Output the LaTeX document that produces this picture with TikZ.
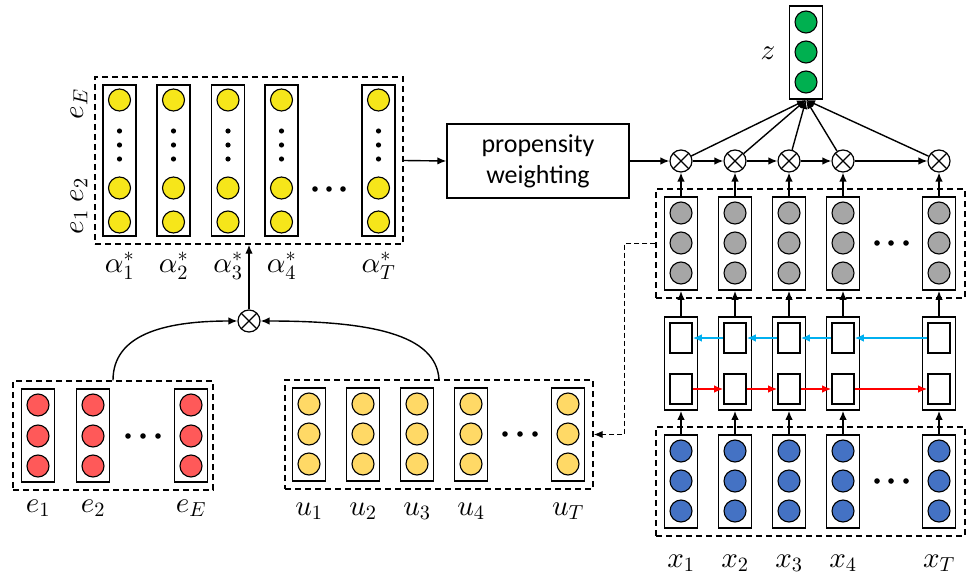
\documentclass[tikz,border=0pt]{standalone}
\usepackage{fontspec}
\DeclareFontFamily{OML}{cmm}{\skewchar\font'177}
\DeclareFontShape{OML}{cmm}{m}{it}{<->cmmi10}{}
\DeclareFontFamily{OMS}{cmsy}{\skewchar\font'60}
\DeclareFontShape{OMS}{cmsy}{m}{n}{<->cmsy10}{}
\DeclareFontFamily{OT1}{cmr}{\hyphenchar\font45}
\DeclareFontShape{OT1}{cmr}{m}{n}{<->cmr10}{}
\newfontfamily\propfont{Carlito}
\usetikzlibrary{arrows.meta}
\definecolor{ayel}{RGB}{246,230,26}
\definecolor{ugold}{RGB}{255,217,102}
\definecolor{ngray}{RGB}{166,166,166}
\definecolor{nblue}{RGB}{68,114,196}
\definecolor{nred}{RGB}{255,89,89}
\definecolor{ngreen}{RGB}{0,176,80}
\definecolor{lblue}{RGB}{0,176,240}
\definecolor{lred}{RGB}{255,0,0}
\begin{document}
\begin{tikzpicture}[x=1pt,y=-1pt,
  col/.style={draw=black, line width=1.8pt, minimum width=33pt, minimum height=93pt, inner sep=0pt},
  inbox/.style={draw=black, line width=1.6pt, minimum width=22pt, minimum height=30pt, inner sep=0pt},
  neu/.style={circle, draw=black, line width=1.1pt, minimum size=22pt, inner sep=0pt},
  grp/.style={draw=black, line width=1.4pt, dash pattern=on 6pt off 4pt, inner sep=0pt},
  ot/.style={circle, draw=black, line width=1.2pt, minimum size=22pt, inner sep=0pt, fill=white,
    path picture={\draw[line width=1.2pt] (path picture bounding box.north west) -- (path picture bounding box.south east)
      (path picture bounding box.north east) -- (path picture bounding box.south west);}},
  arr/.style={-{Latex[length=9pt,width=7.5pt]}, line width=1.4pt},
  lab/.style={font=\fontsize{29}{34}\selectfont, inner sep=0pt, anchor=base},
  dotf/.style={fill=black}
]
\useasboundingbox[fill=white] (0,0) rectangle (968,575);

% ---------------- alpha block ----------------
\node[grp, minimum width=308pt, minimum height=167pt] (agrp) at (249,160.5) {};
\foreach \i/\x in {1/119.5,2/173.5,3/228,4/281.5,T/378.5} {
  \node[col, minimum height=151pt] (a\i) at (\x,160.5) {};
  \node[neu, fill=ayel] (a\i-E) at (\x,100) {};
  \node[neu, fill=ayel] (a\i-2) at (\x,188) {};
  \node[neu, fill=ayel] (a\i-1) at (\x,222) {};
  \fill[dotf] (\x,131) circle[radius=2.6pt] (\x,145) circle[radius=2.6pt] (\x,159) circle[radius=2.6pt];
  \node[lab] (al\i) at (\x,272) {$\alpha_{\i}^{*}$};
}
\fill[dotf] (315,189) circle[radius=2.8pt] (329,189) circle[radius=2.8pt] (343,189) circle[radius=2.8pt];
\node[lab, rotate=90] (leE) at (83,104) {$e_E$};
\node[lab, rotate=90] (le2) at (83,190) {$e_2$};
\node[lab, rotate=90] (le1) at (83,222) {$e_1$};

% ---------------- propensity weighting ----------------
\node[draw=black, line width=1.4pt, minimum width=182pt, minimum height=74pt, align=center, inner sep=0pt,
  font=\propfont\fontsize{26}{31}\selectfont] (prop) at (538,161) {propensity\\weighting};
\draw[arr] (agrp.east) -- (prop.west);

% ---------------- z ----------------
\node[col] (z) at (806,52.5) {};
\foreach \y [count=\j] in {22,52,82} \node[neu, fill=ngreen] (z-\j) at (806,\y) {};
\node[lab] (zl) at (768,60) {$z$};

% ---------------- right side ----------------
\node[grp, minimum width=309pt, minimum height=109pt] (ggrp) at (810.5,243.5) {};
\node[grp, minimum width=309pt, minimum height=109pt] (bgrp) at (810.5,481.5) {};
\foreach \k/\x/\s in {1/681/1,2/735/2,3/789/3,4/843/4,5/939/T} {
  \node[ot] (o\k) at (\x,161) {};
  \node[col] (g\k) at (\x,243.5) {};
  \foreach \y [count=\j] in {213,243,273} \node[neu, fill=ngray] (g\k-\j) at (\x,\y) {};
  \node[col] (r\k) at (\x,363.5) {};
  \node[inbox] (ru\k) at (\x,338) {};
  \node[inbox] (rl\k) at (\x,389) {};
  \node[col] (b\k) at (\x,481.5) {};
  \foreach \y [count=\j] in {451,481,511} \node[neu, fill=nblue] (b\k-\j) at (\x,\y) {};
  \node[lab] (xl\k) at (\x,567) {$x_{\s}$};
  \draw[arr] (g\k) -- (o\k);
  \draw[arr] (r\k) -- (g\k);
  \draw[arr] (b\k) -- (r\k);
  \draw[arr] (o\k) -- (z.south);
}
\foreach \a/\b in {1/2,2/3,3/4,4/5} {
  \draw[arr] (o\a) -- (o\b);
  \draw[arr, draw=lblue, -{Latex[length=9pt,width=7.5pt,fill=lblue]}] (ru\b.west) -- (ru\a.east);
  \draw[arr, draw=lred, -{Latex[length=9pt,width=7.5pt,fill=lred]}] (rl\a.east) -- (rl\b.west);
}
\draw[arr] (prop.east) -- (o1);
\fill[dotf] (877,243) circle[radius=2.8pt] (891,243) circle[radius=2.8pt] (906,243) circle[radius=2.8pt];
\fill[dotf] (877,481) circle[radius=2.8pt] (891,481) circle[radius=2.8pt] (906,481) circle[radius=2.8pt];

% ---------------- e block ----------------
\node[grp, minimum width=200pt, minimum height=109pt] (rgrp) at (113,435.5) {};
\foreach \i/\x in {1/38,2/93,E/191} {
  \node[col] (e\i) at (\x,435.5) {};
  \foreach \y [count=\j] in {405,436,466} \node[neu, fill=nred] (e\i-\j) at (\x,\y) {};
  \node[lab] (el\i) at (\x,512) {$e_{\i}$};
}
\fill[dotf] (128,436) circle[radius=2.8pt] (143,436) circle[radius=2.8pt] (158,436) circle[radius=2.8pt];

% ---------------- u block ----------------
\node[grp, minimum width=308pt, minimum height=109pt] (ugrp) at (439,434.5) {};
\foreach \i/\x in {1/309,2/363,3/417,4/471,T/568} {
  \node[col] (u\i) at (\x,434.5) {};
  \foreach \y [count=\j] in {404,434,464} \node[neu, fill=ugold] (u\i-\j) at (\x,\y) {};
  \node[lab] (ul\i) at (\x,515) {$u_{\i}$};
}
\fill[dotf] (505,434) circle[radius=2.8pt] (520,434) circle[radius=2.8pt] (535,434) circle[radius=2.8pt];

% ---------------- combination ----------------
\node[ot] (oA) at (249,321) {};
\draw[arr] (oA) -- (agrp.south);
\draw[arr] (rgrp.north) .. controls +(0,-45) and +(-75,0) .. (oA.west);
\draw[arr] (ugrp.north) .. controls +(-3,-45) and +(110,0) .. (oA.east);
\draw[arr, line width=1.4pt, dash pattern=on 5pt off 3pt] (ggrp.west) -- ++(-31,0) |- (ugrp.east);
\end{tikzpicture}
\end{document}
